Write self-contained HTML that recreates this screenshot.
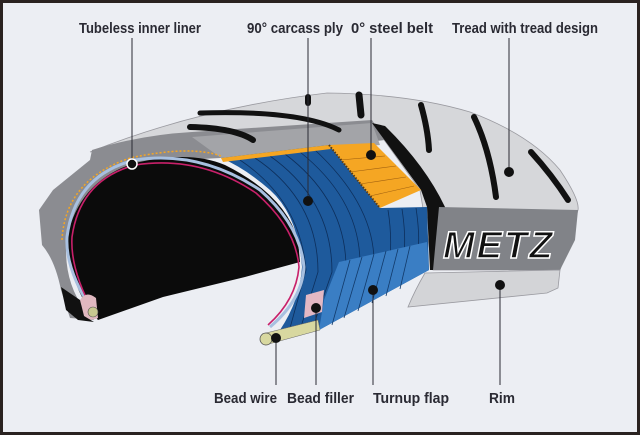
<!DOCTYPE html>
<html><head><meta charset="utf-8"><style>
html,body{margin:0;padding:0;background:#2a2220}
svg{display:block}
text{font-family:"Liberation Sans",sans-serif;font-weight:bold;font-size:15px;fill:#2a2a33}
</style></head><body>
<svg width="640" height="435" viewBox="0 0 640 435" xmlns="http://www.w3.org/2000/svg">
<rect x="0" y="0" width="640" height="435" fill="#2a2220"/>
<rect x="3" y="3" width="634" height="429" fill="#eceef3"/>
<!-- light tread -->
<path d="M90,152 Q200,108 327,93 Q410,94 470,112 Q531,135 560,170 Q580,200 578,210 L560,270 L433,270 L420,190 L372,123 L192,137 Z" fill="#d6d7da" stroke="#9a9aa0" stroke-width="0.8"/>
<!-- dark left sidewall/section -->
<path d="M39,210 L53,190 L90,160 L92,150 Q140,135 192,132 L372,120 L385,140 L221,158 Q150,160 100,190 Q70,215 66,250 Q66,285 85,310 L94,320 L70,318 L61,290 Q55,260 42,245 Z" fill="#8b8c91"/>
<path d="M192,137 L372,123 L380,145 L221,158 Z" fill="#a3a4a8"/>
<!-- black stripe -->
<path d="M372,123 L385,126 Q425,165 445,207 L440,270 L430,270 L427,207 L421,190 Z" fill="#111"/>
<!-- black interior -->
<path d="M67,237 Q80,180 135,163 Q190,150 225,165 Q285,195 298,240 L300,262 L245,277 L163,297 L98,320 Q70,290 67,237 Z" fill="#0b0b0b"/>
<!-- blue carcass -->
<path d="M221,158 L329,145 L380,208 L427,207 L429,270 L319,330 L280,330 Q300,300 302,267 Q298,215 270,190 Q245,168 221,158 Z" fill="#1e5a9c"/>
<g stroke="#0d2f5c" stroke-width="0.8" fill="none">
<path d="M240,160 Q300,200 306,270 L290,328"/><path d="M255,158 Q318,200 318,272 L300,330"/>
<path d="M270,156 Q332,200 332,272 L312,330"/><path d="M285,154 Q346,200 346,268 L322,328"/>
<path d="M300,152 Q360,200 360,264"/><path d="M315,150 Q374,205 374,262"/>
<path d="M388,210 Q392,235 390,258"/><path d="M402,209 Q406,235 404,254"/><path d="M416,208 Q420,235 418,250"/>
</g>
<!-- turnup flap -->
<path d="M339,262 L427,242 L429,270 L319,330 L324,300 Z" fill="#3a7ec4"/>
<g stroke="#123a6a" stroke-width="0.8"><line x1="350" y1="260" x2="332" y2="325"/><line x1="362" y1="257" x2="344" y2="318"/><line x1="374" y1="254" x2="358" y2="311"/><line x1="386" y1="251" x2="372" y2="303"/><line x1="398" y1="249" x2="386" y2="296"/><line x1="410" y1="246" x2="400" y2="289"/></g>
<!-- orange belt -->
<path d="M329,145 L374,143 L421,190 L380,208 Z" fill="#f5a623"/>
<path d="M221,158 L329,145 L331,149 L223,162 Z" fill="#f5a623"/>
<g stroke="#a06010" stroke-width="0.6"><line x1="340" y1="160" x2="385" y2="156"/><line x1="350" y1="172" x2="396" y2="166"/><line x1="360" y1="184" x2="406" y2="177"/><line x1="370" y1="196" x2="414" y2="186"/></g>
<path d="M329,145 L380,208" stroke="#5a3a10" stroke-width="2" stroke-dasharray="1.5 1.5"/>
<!-- inner liner -->
<path d="M94,313 Q65,270 67,237 Q75,175 135,160 Q200,150 260,190 Q300,225 304,267 Q302,300 270,327" fill="none" stroke="#a8c0e0" stroke-width="3"/>
<path d="M94,313 Q70,270 72,237 Q80,180 135,165 Q200,155 256,193 Q296,228 299,267 Q296,300 268,325" fill="none" stroke="#c8206a" stroke-width="1.6"/>
<path d="M62,240 Q65,180 130,158 Q190,145 221,156" fill="none" stroke="#f5a623" stroke-width="1.5" stroke-dasharray="2 2"/>
<!-- left bead -->
<path d="M80,300 Q86,290 96,298 L98,318 Q90,322 84,316 Z" fill="#e0b8c0"/>
<circle cx="93" cy="312" r="5" fill="#c8c890" stroke="#555" stroke-width="0.6"/>
<path d="M61,287 L80,300 L84,316 L94,322 L78,320 L66,310 Z" fill="#111"/>
<!-- bead filler / wire -->
<path d="M306,295 L324,290 L322,312 L304,318 Z" fill="#e3b8c4"/>
<path d="M262,334 L318,320 L320,330 L265,345 Z" fill="#d8d8a0" stroke="#666" stroke-width="0.5"/>
<circle cx="266" cy="339" r="6" fill="#d8d8a0" stroke="#555" stroke-width="0.8"/>
<!-- METZ band -->
<path d="M439,207 L578,210 L575,240 L560,270 L433,270 Z" fill="#818388"/>
<text x="443" y="258" style="font-family:'Liberation Sans',sans-serif;font-size:38px;font-style:italic;fill:#111;stroke:#fff;stroke-width:1.5;letter-spacing:2px">METZ</text>
<!-- rim -->
<path d="M425,273 L560,270 L558,288 L547,293 L408,307 Q415,290 425,273 Z" fill="#d3d4d7" stroke="#9a9aa0" stroke-width="0.8"/>
<!-- tread grooves -->
<g stroke="#111" stroke-linecap="round" fill="none">
<path d="M190,127 Q235,128 253,140" stroke-width="6"/><path d="M200,113 Q300,110 339,130" stroke-width="5"/>
<path d="M421,105 Q428,130 429,150" stroke-width="6"/><path d="M474,117 Q490,150 496,197" stroke-width="6"/>
<path d="M531,152 Q552,175 568,200" stroke-width="6"/><path d="M359,95 L361,115" stroke-width="7"/>
<path d="M308,97 L308,103" stroke-width="6"/>
</g>
<!-- labels -->
<g stroke="#2a2a33" stroke-width="1">
<line x1="132" y1="38" x2="132" y2="160"/><line x1="308" y1="38" x2="308" y2="200"/><line x1="371" y1="38" x2="371" y2="155"/><line x1="509" y1="38" x2="509" y2="172"/>
<line x1="276" y1="338" x2="276" y2="385"/><line x1="316" y1="308" x2="316" y2="385"/><line x1="373" y1="290" x2="373" y2="385"/><line x1="500" y1="285" x2="500" y2="385"/>
</g>
<circle cx="132" cy="164" r="5" fill="#111" stroke="#fff" stroke-width="1.5"/>
<g fill="#111"><circle cx="308" cy="201" r="5"/><circle cx="371" cy="155" r="5"/><circle cx="509" cy="172" r="5"/><circle cx="276" cy="338" r="5"/><circle cx="316" cy="308" r="5"/><circle cx="373" cy="290" r="5"/><circle cx="500" cy="285" r="5"/></g>
<text x="79" y="33" textLength="122" lengthAdjust="spacingAndGlyphs">Tubeless inner liner</text>
<text x="247" y="33" textLength="96" lengthAdjust="spacingAndGlyphs">90° carcass ply</text>
<text x="351" y="33" textLength="82" lengthAdjust="spacingAndGlyphs">0° steel belt</text>
<text x="452" y="33" textLength="146" lengthAdjust="spacingAndGlyphs">Tread with tread design</text>
<text x="214" y="403" textLength="63" lengthAdjust="spacingAndGlyphs">Bead wire</text>
<text x="287" y="403" textLength="67" lengthAdjust="spacingAndGlyphs">Bead filler</text>
<text x="373" y="403" textLength="76" lengthAdjust="spacingAndGlyphs">Turnup flap</text>
<text x="489" y="403" textLength="26" lengthAdjust="spacingAndGlyphs">Rim</text>
</svg>
</body></html>
